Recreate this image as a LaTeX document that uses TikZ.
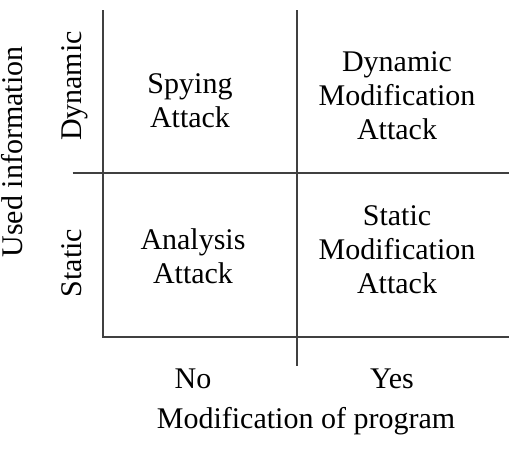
\documentclass[tikz,border=0pt]{standalone}
\usepackage{fontspec}
\setmainfont{Liberation Serif}
\begin{document}
\begin{tikzpicture}[x=1pt,y=-1pt,
  gridline/.style={draw=black!75,line width=1.9pt},
  cell/.style={align=center,inner sep=0pt,anchor=center,font=\fontsize{30}{34}\selectfont},
  lbl/.style={inner sep=0pt,anchor=base,font=\fontsize{30}{34}\selectfont}]
\useasboundingbox (0,0) rectangle (509,453);
% grid
\coordinate (lt) at (102.7,10);
\coordinate (lb) at (102.7,337);
\coordinate (mt) at (296.7,10);
\coordinate (mb) at (296.7,366);
\coordinate (hl) at (72.7,173);
\coordinate (hr) at (509,173);
\coordinate (br) at (509,337);
\draw[gridline] (lt) -- (lb) -- (br);
\draw[gridline] (mt) -- (mb);
\draw[gridline] (hl) -- (hr);
% cells
\node[cell] (spy) at (190,101) {Spying\\Attack};
\node[cell] (dyn) at (397,95.5) {Dynamic\\Modification\\Attack};
\node[cell] (ana) at (193,256) {Analysis\\Attack};
\node[cell] (sta) at (397,249.5) {Static\\Modification\\Attack};
% axis labels
\node[lbl] (no) at (193,388) {No};
\node[lbl] (yes) at (392,388) {Yes};
\node[lbl] (modprog) at (306,428) {Modification of program};
\node[lbl,rotate=90] (used) at (23,152) {Used information};
\node[lbl,rotate=90] (dynl) at (81,86) {Dynamic};
\node[lbl,rotate=90] (stal) at (81,263) {Static};
\end{tikzpicture}
\end{document}
